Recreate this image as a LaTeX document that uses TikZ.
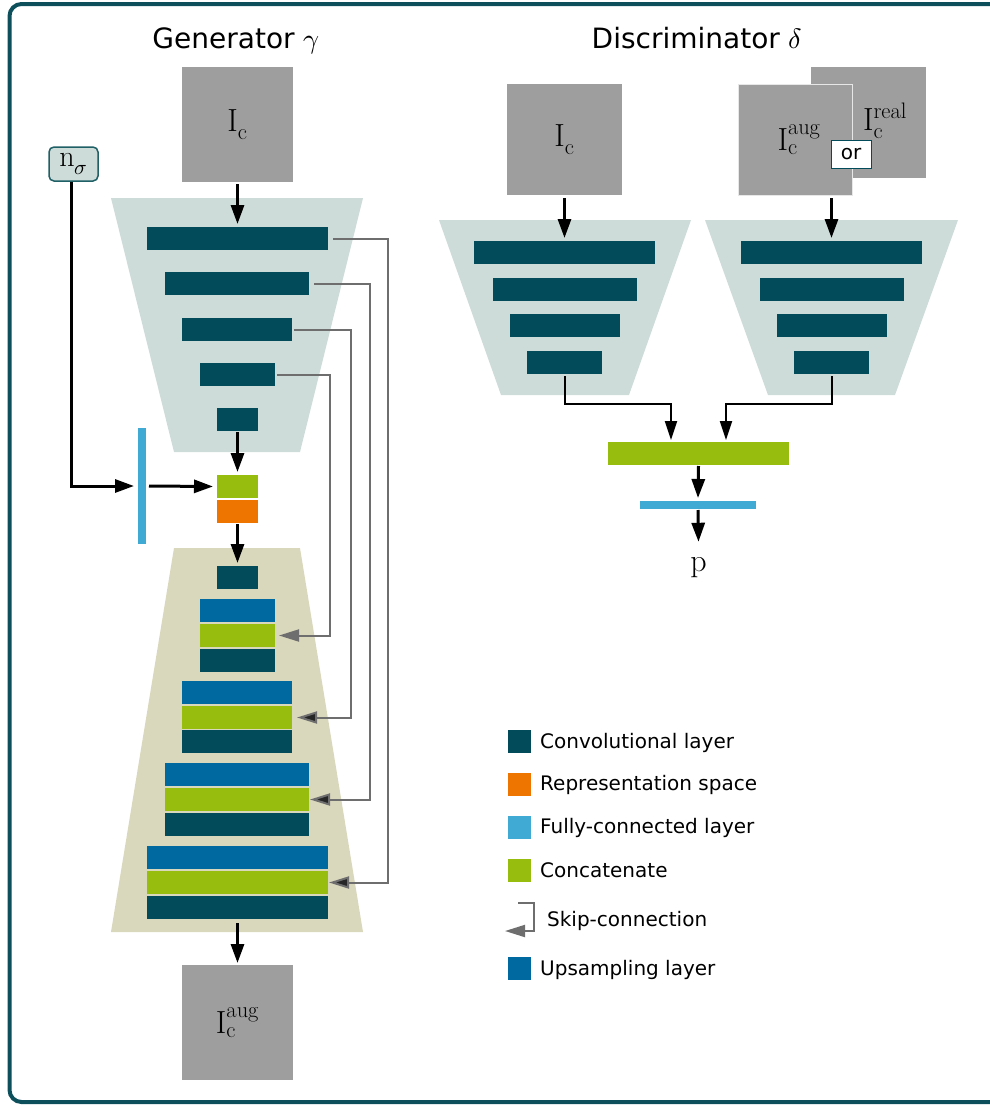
\documentclass[tikz,border=0pt]{standalone}
\usepackage{fontspec}
\usepackage{unicode-math}
\newfontfamily\labelsans{DejaVu Sans}
\usetikzlibrary{arrows.meta,calc}

\definecolor{convc}{HTML}{024B5A}
\definecolor{encbg}{HTML}{CDDCD9}
\definecolor{decbg}{HTML}{DAD8BC}
\definecolor{catc}{HTML}{97BD0F}
\definecolor{repc}{HTML}{EE7600}
\definecolor{fcc}{HTML}{40AAD5}
\definecolor{upc}{HTML}{006AA0}
\definecolor{imgc}{HTML}{9E9E9E}
\definecolor{skipc}{HTML}{6E6E6E}
\definecolor{framec}{HTML}{0E4F5C}
\definecolor{nsborder}{HTML}{1F5F66}

\tikzset{
  blk/.style={rectangle, inner sep=0pt, outer sep=0pt, anchor=north west},
  img/.style={rectangle, fill=imgc, inner sep=0pt, outer sep=0pt,
              font=\fontsize{32}{34}\selectfont},
  lbl/.style={inner sep=0pt, font=\fontsize{32}{34}\selectfont},
  title/.style={inner sep=0pt, anchor=base, font=\labelsans\fontsize{28}{32}\selectfont},
  legtxt/.style={inner sep=0pt, anchor=base west, font=\labelsans\fontsize{20}{24}\selectfont},
  legsq/.style={rectangle, inner sep=0pt, minimum width=23pt, minimum height=23pt},
  arr/.style={draw=black, line width=3pt, -{Triangle[length=19pt,width=13pt]}},
  thinarr/.style={draw=black, line width=2pt, -{Triangle[length=19pt,width=12pt]}},
  skip/.style={draw=skipc, line width=2pt, -{Triangle[length=20pt,width=12pt,fill=skipc,color=skipc]}},
  skipd/.style={draw=skipc, line width=2pt, -{Triangle[length=20pt,width=12pt,fill=black!85,color=skipc]}},
}

% layer block: name, colour, left, top, right, bottom
\newcommand\lyr[6]{%
  \node[blk, fill=#2, minimum width={(#5-#3)*1pt}, minimum height={(#6-#4)*1pt}] (#1) at (#3,#4) {};}

\begin{document}
\begin{tikzpicture}[x=1pt, y=-1pt]
\useasboundingbox (0,0) rectangle (990,1106);

% outer frame
\draw[framec, line width=4pt, rounded corners=12pt] (9.5,4) rectangle (1020,1102);

% ---------------- Generator ----------------
\node[title] (tgen) at (236,48) {Generator $\gamma$};

% encoder and decoder backgrounds
\fill[encbg] (111,198) -- (363,198) -- (300,452) -- (174,452) -- cycle;
\fill[decbg] (174,548) -- (300,548) -- (363,932) -- (111,932) -- cycle;

\node[img, minimum width=111pt, minimum height=115pt] (gin) at (237.5,124.5) {$\mathrm{I}_\mathrm{c}$};
\node[img, minimum width=111pt, minimum height=115pt] (gout) at (237.5,1022.5) {$\mathrm{I}_\mathrm{c}^\mathrm{aug}$};

\node[draw=nsborder, fill=encbg, line width=1.5pt, rounded corners=5pt, inner sep=0pt,
      minimum width=49pt, minimum height=34pt, font=\fontsize{30}{32}\selectfont] (ns) at (73.5,164) {$\mathrm{n}_\sigma$};

% encoder layers
\lyr{e1}{convc}{147}{227}{328}{250}
\lyr{e2}{convc}{165}{272}{309}{295}
\lyr{e3}{convc}{182}{318}{292}{341}
\lyr{e4}{convc}{200}{363}{275}{386}
\lyr{e5}{convc}{217}{408}{258}{431}

% bottleneck
\lyr{fcg}{fcc}{138}{428}{146}{544}
\lyr{cz}{catc}{217}{475}{258}{498}
\lyr{rz}{repc}{217}{500}{258}{523}

% decoder layers
\lyr{d0}{convc}{217}{566}{258}{589}
\lyr{u1}{upc}{200}{599}{275}{622}
\lyr{c1}{catc}{200}{624}{275}{647}
\lyr{v1}{convc}{200}{649}{275}{672}
\lyr{u2}{upc}{182}{681}{292}{704}
\lyr{c2}{catc}{182}{706}{292}{729}
\lyr{v2}{convc}{182}{730}{292}{753}
\lyr{u3}{upc}{165}{763}{309}{786}
\lyr{c3}{catc}{165}{788}{309}{811}
\lyr{v3}{convc}{165}{813}{309}{836}
\lyr{u4}{upc}{147}{846}{328}{869}
\lyr{c4}{catc}{147}{871}{328}{894}
\lyr{v4}{convc}{147}{896}{328}{919}

% main flow
\draw[arr] ([yshift=-2pt]gin.south) -- ([yshift=3pt]e1.north);
\draw[arr] ([yshift=-1pt]e5.south) -- ([yshift=3pt]cz.north);
\draw[arr] ([yshift=-1pt]rz.south) -- ([yshift=3pt]d0.north);
\draw[arr] ([yshift=-4pt]v4.south) -- ([yshift=2pt]gout.north);
\draw[arr] ([xshift=-2.5pt]ns.south) |- ([xshift=-4pt]fcg.west);
\draw[arr] ([xshift=3pt]fcg.east) -- ([xshift=-4pt]cz.west);

% skip connections
\draw[skip]  ([xshift=2pt]e4.east) -- ++(53,0) |- ([xshift=4pt]c1.east);
\draw[skipd] ([xshift=2pt]e3.east) -- ++(57,0) |- ([xshift=5pt]c2.east);
\draw[skipd] ([xshift=5pt]e2.east) -- ++(56,0) |- ([xshift=1pt]c3.east);
\draw[skipd] ([xshift=5pt]e1.east) -- ++(55,0) |- ([xshift=1pt]c4.east);

% ---------------- Discriminator ----------------
\node[title] (tdis) at (697,48) {Discriminator $\delta$};

\node[img, minimum width=115pt, minimum height=111pt] (din) at (564.5,139.5) {$\mathrm{I}_\mathrm{c}$};
\node[img, minimum width=115pt, minimum height=111pt] (dreal) at (868.5,122.5) {};
\node[lbl] (treal) at (885,121) {$\mathrm{I}_\mathrm{c}^\mathrm{real}$};
\node[img, draw=white!75!imgc, line width=1pt, minimum width=114pt, minimum height=111pt] (daug) at (795,139.5) {};
\node[lbl] (taug) at (799,139.5) {$\mathrm{I}_\mathrm{c}^\mathrm{aug}$};
\node[rectangle, draw=convc, fill=white, line width=1pt, inner sep=0pt,
      minimum width=40pt, minimum height=28pt, font=\labelsans\fontsize{20}{24}\selectfont] (orb) at (851,154) {or};

\fill[encbg] (439,220) -- (691,220) -- (629,395) -- (501,395) -- cycle;
\fill[encbg] (705,220) -- (958,220) -- (895,395) -- (768,395) -- cycle;

\lyr{dl1}{convc}{474}{241}{655}{264}
\lyr{dl2}{convc}{493}{278}{637}{301}
\lyr{dl3}{convc}{510}{314}{620}{337}
\lyr{dl4}{convc}{527}{351}{602}{374}
\lyr{dr1}{convc}{741}{241}{922}{264}
\lyr{dr2}{convc}{760}{278}{904}{301}
\lyr{dr3}{convc}{777}{314}{887}{337}
\lyr{dr4}{convc}{794}{351}{869}{374}

\lyr{dcat}{catc}{608}{442}{789}{465}
\lyr{dfc}{fcc}{640}{501}{756}{509}
\node[lbl, anchor=base] (pp) at (698.5,571) {$\mathrm{p}$};

\draw[arr] ([yshift=-3pt]din.south) -- ([yshift=3pt]dl1.north);
\draw[arr] ($(daug.south -| dr1.north)+(0,3)$) -- ([yshift=3pt]dr1.north);
\draw[thinarr] ([yshift=-2pt]dl4.south) -- ++(0,28) -| ([xshift=-27.5pt,yshift=2pt]dcat.north);
\draw[thinarr] ([yshift=-2pt]dr4.south) -- ++(0,28) -| ([xshift=27.5pt,yshift=2pt]dcat.north);
\draw[arr] ([yshift=-1pt]dcat.south) -- ([yshift=3pt]dfc.north);
\draw[arr] ([yshift=-1pt]dfc.south) -- ([yshift=15pt]pp.north);

% ---------------- Legend ----------------
\node[legsq, fill=convc] (lg1) at (519.5,741.5) {};
\node[legsq, fill=repc]  (lg2) at (519.5,784.5) {};
\node[legsq, fill=fcc]   (lg3) at (519.5,827.5) {};
\node[legsq, fill=catc]  (lg4) at (519.5,870.5) {};
\node[legsq, fill=upc]   (lg6) at (519.5,968.5) {};
\coordinate (lska) at (518,903);
\coordinate (lskb) at (505,931);
\draw[skip] (lska) -- ++(16,0) |- (lskb);

\node[legtxt] (lt1) at (540,748) {Convolutional layer};
\node[legtxt] (lt2) at (540,790) {Representation space};
\node[legtxt] (lt3) at (540,833) {Fully-connected layer};
\node[legtxt] (lt4) at (540,877) {Concatenate};
\node[legtxt] (lt5) at (547,926) {Skip-connection};
\node[legtxt] (lt6) at (540,975) {Upsampling layer};
\end{tikzpicture}
\end{document}
